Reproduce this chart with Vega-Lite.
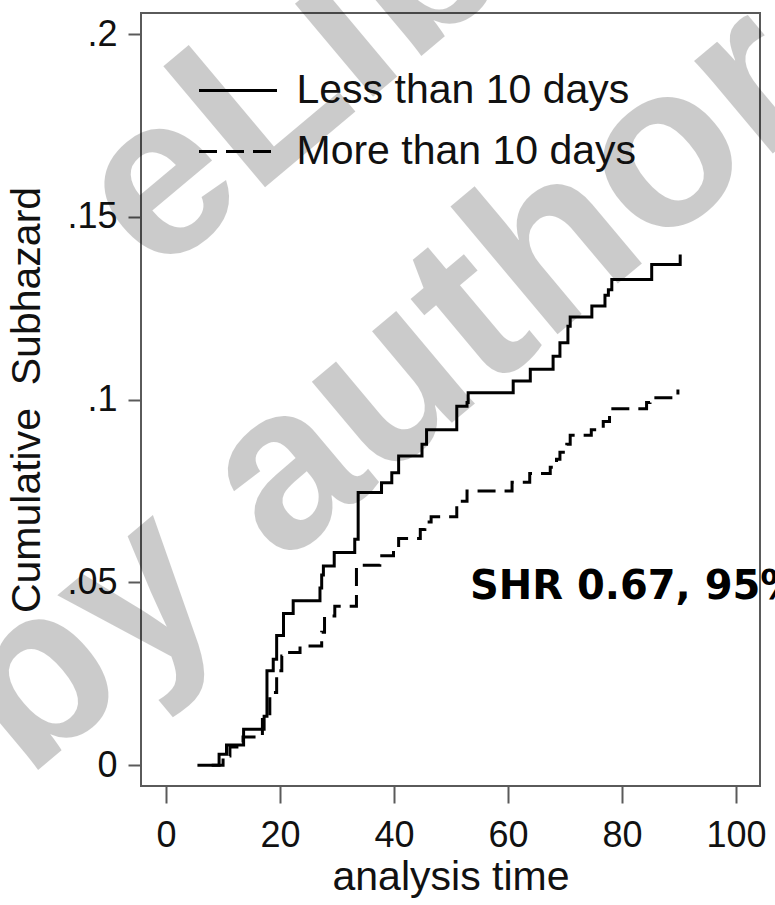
{
  "$schema": "https://vega.github.io/schema/vega-lite/v6.json",
  "width": 619,
  "height": 773,
  "autosize": {"type": "none"},
  "padding": {"left": 141, "top": 13, "right": 15, "bottom": 119},
  "config": {
    "view": {"stroke": "#5a5a5a", "strokeWidth": 2},
    "font": "Liberation Sans",
    "axis": {
      "domain": false,
      "grid": false,
      "tickColor": "#5a5a5a",
      "tickWidth": 2,
      "labelFont": "Liberation Sans",
      "labelColor": "#111111",
      "labelFontSize": 36,
      "titleFont": "Liberation Sans",
      "titleFontSize": 41,
      "titleFontWeight": "normal",
      "titleColor": "#111111"
    }
  },
  "datasets": {
    "curves": [
      {"g": "Less than 10 days", "t": 5.5, "v": 0},
      {"g": "Less than 10 days", "t": 9.3, "v": 0.003},
      {"g": "Less than 10 days", "t": 10.6, "v": 0.0055},
      {"g": "Less than 10 days", "t": 13.6, "v": 0.0098},
      {"g": "Less than 10 days", "t": 17.2, "v": 0.0134},
      {"g": "Less than 10 days", "t": 17.7, "v": 0.0258},
      {"g": "Less than 10 days", "t": 18.8, "v": 0.029},
      {"g": "Less than 10 days", "t": 19.4, "v": 0.0355},
      {"g": "Less than 10 days", "t": 20.6, "v": 0.0415},
      {"g": "Less than 10 days", "t": 22.3, "v": 0.045},
      {"g": "Less than 10 days", "t": 27.0, "v": 0.0485},
      {"g": "Less than 10 days", "t": 27.3, "v": 0.052},
      {"g": "Less than 10 days", "t": 27.6, "v": 0.0545},
      {"g": "Less than 10 days", "t": 29.5, "v": 0.0582},
      {"g": "Less than 10 days", "t": 33.1, "v": 0.0618},
      {"g": "Less than 10 days", "t": 33.7, "v": 0.0746},
      {"g": "Less than 10 days", "t": 37.8, "v": 0.0773},
      {"g": "Less than 10 days", "t": 39.6, "v": 0.08},
      {"g": "Less than 10 days", "t": 40.8, "v": 0.0846},
      {"g": "Less than 10 days", "t": 44.9, "v": 0.0878},
      {"g": "Less than 10 days", "t": 45.7, "v": 0.0918},
      {"g": "Less than 10 days", "t": 51.0, "v": 0.0982},
      {"g": "Less than 10 days", "t": 52.8, "v": 0.0992},
      {"g": "Less than 10 days", "t": 53.0, "v": 0.1019},
      {"g": "Less than 10 days", "t": 60.9, "v": 0.1051},
      {"g": "Less than 10 days", "t": 63.9, "v": 0.1083},
      {"g": "Less than 10 days", "t": 67.9, "v": 0.1119},
      {"g": "Less than 10 days", "t": 69.1, "v": 0.1156},
      {"g": "Less than 10 days", "t": 70.5, "v": 0.1201},
      {"g": "Less than 10 days", "t": 70.9, "v": 0.1226},
      {"g": "Less than 10 days", "t": 74.7, "v": 0.1256},
      {"g": "Less than 10 days", "t": 77.0, "v": 0.1286},
      {"g": "Less than 10 days", "t": 77.6, "v": 0.1301},
      {"g": "Less than 10 days", "t": 78.2, "v": 0.1329},
      {"g": "Less than 10 days", "t": 85.2, "v": 0.137},
      {"g": "Less than 10 days", "t": 90.2, "v": 0.1397},
      {"g": "More than 10 days", "t": 8.0, "v": 0},
      {"g": "More than 10 days", "t": 10.0, "v": 0.0025},
      {"g": "More than 10 days", "t": 11.2, "v": 0.005},
      {"g": "More than 10 days", "t": 13.5, "v": 0.0077},
      {"g": "More than 10 days", "t": 16.9, "v": 0.0125},
      {"g": "More than 10 days", "t": 18.2, "v": 0.0199},
      {"g": "More than 10 days", "t": 19.4, "v": 0.0258},
      {"g": "More than 10 days", "t": 20.3, "v": 0.0299},
      {"g": "More than 10 days", "t": 21.0, "v": 0.0308},
      {"g": "More than 10 days", "t": 23.5, "v": 0.0326},
      {"g": "More than 10 days", "t": 27.3, "v": 0.0364},
      {"g": "More than 10 days", "t": 27.8, "v": 0.0408},
      {"g": "More than 10 days", "t": 29.6, "v": 0.0435},
      {"g": "More than 10 days", "t": 33.4, "v": 0.0547},
      {"g": "More than 10 days", "t": 37.5, "v": 0.0573},
      {"g": "More than 10 days", "t": 39.9, "v": 0.0592},
      {"g": "More than 10 days", "t": 40.8, "v": 0.062},
      {"g": "More than 10 days", "t": 44.6, "v": 0.0645},
      {"g": "More than 10 days", "t": 45.4, "v": 0.0665},
      {"g": "More than 10 days", "t": 46.5, "v": 0.068},
      {"g": "More than 10 days", "t": 51.0, "v": 0.0722},
      {"g": "More than 10 days", "t": 52.8, "v": 0.075},
      {"g": "More than 10 days", "t": 60.7, "v": 0.0774},
      {"g": "More than 10 days", "t": 63.8, "v": 0.0798},
      {"g": "More than 10 days", "t": 67.4, "v": 0.0815},
      {"g": "More than 10 days", "t": 68.5, "v": 0.0837},
      {"g": "More than 10 days", "t": 69.1, "v": 0.0856},
      {"g": "More than 10 days", "t": 70.3, "v": 0.0878},
      {"g": "More than 10 days", "t": 70.9, "v": 0.0903},
      {"g": "More than 10 days", "t": 74.6, "v": 0.0918},
      {"g": "More than 10 days", "t": 76.7, "v": 0.094},
      {"g": "More than 10 days", "t": 77.8, "v": 0.0975},
      {"g": "More than 10 days", "t": 84.3, "v": 0.0992},
      {"g": "More than 10 days", "t": 84.9, "v": 0.1005},
      {"g": "More than 10 days", "t": 89.8, "v": 0.1028}
    ],
    "mark1": [{"label": "eLibrary"}],
    "mark2": [{"label": "by author"}],
    "note": [{"label": "SHR 0.67, 95%"}]
  },
  "layer": [
    {
      "data": {"name": "mark1"},
      "mark": {"type": "text", "font": "Liberation Sans", "fontWeight": "bold", "fontSize": 230, "angle": 320, "align": "left", "baseline": "alphabetic", "color": "#000000", "opacity": 0.2},
      "encoding": {
        "x": {"datum": -1.9, "type": "quantitative", "scale": {"domain": [-4.4, 104.2], "nice": false, "zero": false}},
        "y": {"datum": 0.1329, "type": "quantitative", "scale": {"domain": [-0.0057, 0.2058], "nice": false, "zero": false}},
        "text": {"field": "label", "type": "nominal"}
      }
    },
    {
      "data": {"name": "mark2"},
      "mark": {"type": "text", "font": "Liberation Sans", "fontWeight": "bold", "fontSize": 230, "angle": 320, "align": "left", "baseline": "alphabetic", "color": "#000000", "opacity": 0.2},
      "encoding": {
        "x": {"datum": -24.5, "type": "quantitative"},
        "y": {"datum": -0.004, "type": "quantitative"},
        "text": {"field": "label", "type": "nominal"}
      }
    },
    {
      "data": {"name": "curves"},
      "mark": {"type": "line", "interpolate": "step-after", "strokeWidth": 3, "color": "#000000"},
      "encoding": {
        "x": {
          "field": "t", "type": "quantitative",
          "scale": {"domain": [-4.4, 104.2], "nice": false, "zero": false},
          "axis": {
            "title": "analysis time",
            "values": [0, 20, 40, 60, 80, 100],
            "tickSize": 17,
            "labelPadding": 15,
            "titlePadding": 4
          }
        },
        "y": {
          "field": "v", "type": "quantitative",
          "scale": {"domain": [-0.0057, 0.2058], "nice": false, "zero": false},
          "axis": {
            "title": "Cumulative\u00a0 Subhazard",
            "values": [0, 0.05, 0.1, 0.15, 0.2],
            "labelExpr": "replace(format(datum.value, '.2~f'), '0.', '.')",
            "tickSize": 13,
            "labelPadding": 11,
            "titlePadding": 18
          }
        },
        "strokeDash": {
          "field": "g", "type": "nominal",
          "scale": {"domain": ["Less than 10 days", "More than 10 days"], "range": [[1, 0], [18, 9]]},
          "legend": {
            "orient": "none",
            "legendX": 56.5,
            "legendY": 37,
            "title": null,
            "padding": 0,
            "symbolType": "stroke",
            "symbolSize": 6084,
            "symbolStrokeWidth": 3,
            "symbolStrokeColor": "#000000",
            "labelFont": "Liberation Sans",
            "labelFontSize": 41,
            "labelColor": "#111111",
            "labelOffset": 18,
            "labelLimit": 0,
            "rowPadding": -33
          }
        }
      }
    },
    {
      "data": {"name": "note"},
      "mark": {"type": "text", "font": "DejaVu Sans", "fontWeight": "bold", "fontSize": 40, "align": "left", "baseline": "alphabetic", "color": "#000000"},
      "encoding": {
        "x": {"datum": 53.3, "type": "quantitative"},
        "y": {"datum": 0.0454, "type": "quantitative"},
        "text": {"field": "label", "type": "nominal"}
      }
    }
  ]
}
